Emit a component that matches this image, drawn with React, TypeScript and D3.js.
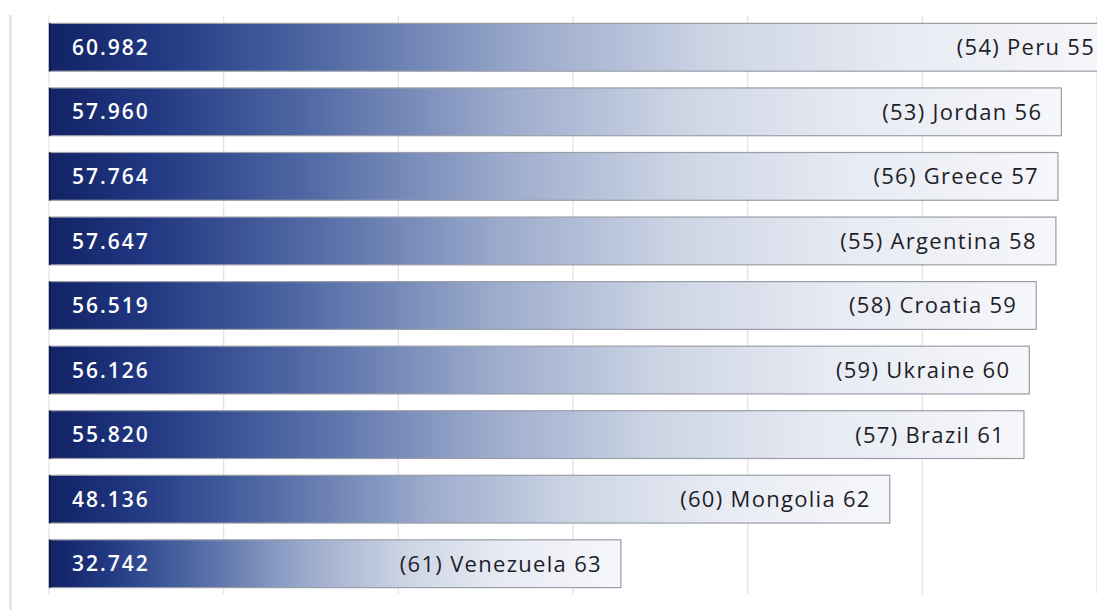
import React from "react";
import * as d3 from "d3";

const countries = ["Peru", "Jordan", "Greece", "Argentina", "Croatia", "Ukraine", "Brazil", "Mongolia", "Venezuela"];
const prevRanks = [54, 53, 56, 55, 58, 59, 57, 60, 61];
const ranks = [55, 56, 57, 58, 59, 60, 61, 62, 63];
const values = [60.982, 57.96, 57.764, 57.647, 56.519, 56.126, 55.82, 48.136, 32.742];
const gridTicks = [0, 10, 20, 30, 40, 50, 60];

const W = 1097;
const H = 610;

export default function App() {
  const x = d3.scaleLinear().domain([0, 60]).range([49, 1097]);
  const y = d3
    .scaleBand<string>()
    .domain(countries)
    .range([15, 596])
    .paddingInner(0.26)
    .paddingOuter(0.13);
  const bw = y.bandwidth();
  const fmt = d3.format(".3f");

  return (
    <div style={{ position: "absolute", left: 0, top: 0, width: W, height: H, background: "#fff" }}>
      <svg width={W} height={H} style={{ display: "block" }}>
        <defs>
          <linearGradient id="barGrad" x1="0" x2="1" y1="0" y2="0">
            <stop offset="0%" stopColor="#122265" />
            <stop offset="10%" stopColor="#213882" />
            <stop offset="25%" stopColor="#4e67a3" />
            <stop offset="45%" stopColor="#9cabcc" />
            <stop offset="62%" stopColor="#ccd4e4" />
            <stop offset="80%" stopColor="#e8ebf3" />
            <stop offset="100%" stopColor="#f6f7fa" />
          </linearGradient>
        </defs>
        <line x1={10.5} x2={10.5} y1={15} y2={H} stroke="#d6dee9" strokeWidth={2} />
        {gridTicks.map((t) => (
          <line key={t} x1={x(t)} x2={x(t)} y1={15} y2={594} stroke="#e2e2e2" strokeWidth={1.2} />
        ))}
        {countries.map((c, i) => {
          const yy = y(c) as number;
          const xe = x(values[i]);
          return (
            <g key={c}>
              <rect
                x={x(0)}
                y={yy}
                width={xe - x(0)}
                height={bw}
                fill="url(#barGrad)"
                stroke="#9a9ea8"
                strokeWidth={1.2}
              />
              <rect x={x(0)} y={yy} width={2} height={bw} fill="#0e1b50" />
              <text
                x={72}
                y={yy + bw / 2}
                dy="0.36em"
                fill="#ffffff"
                fontFamily="'Open Sans', Lato, sans-serif"
                fontWeight={600}
                fontSize={21}
                letterSpacing={2}
              >
                {fmt(values[i])}
              </text>
              <text
                x={xe - 19}
                y={yy + bw / 2}
                dy="0.36em"
                textAnchor="end"
                fill="#1e1e28"
                fontFamily="'Open Sans', Lato, sans-serif"
                fontSize={22}
                letterSpacing={1.3}
              >
                {`(${prevRanks[i]}) ${c} ${ranks[i]}`}
              </text>
            </g>
          );
        })}
      </svg>
    </div>
  );
}
